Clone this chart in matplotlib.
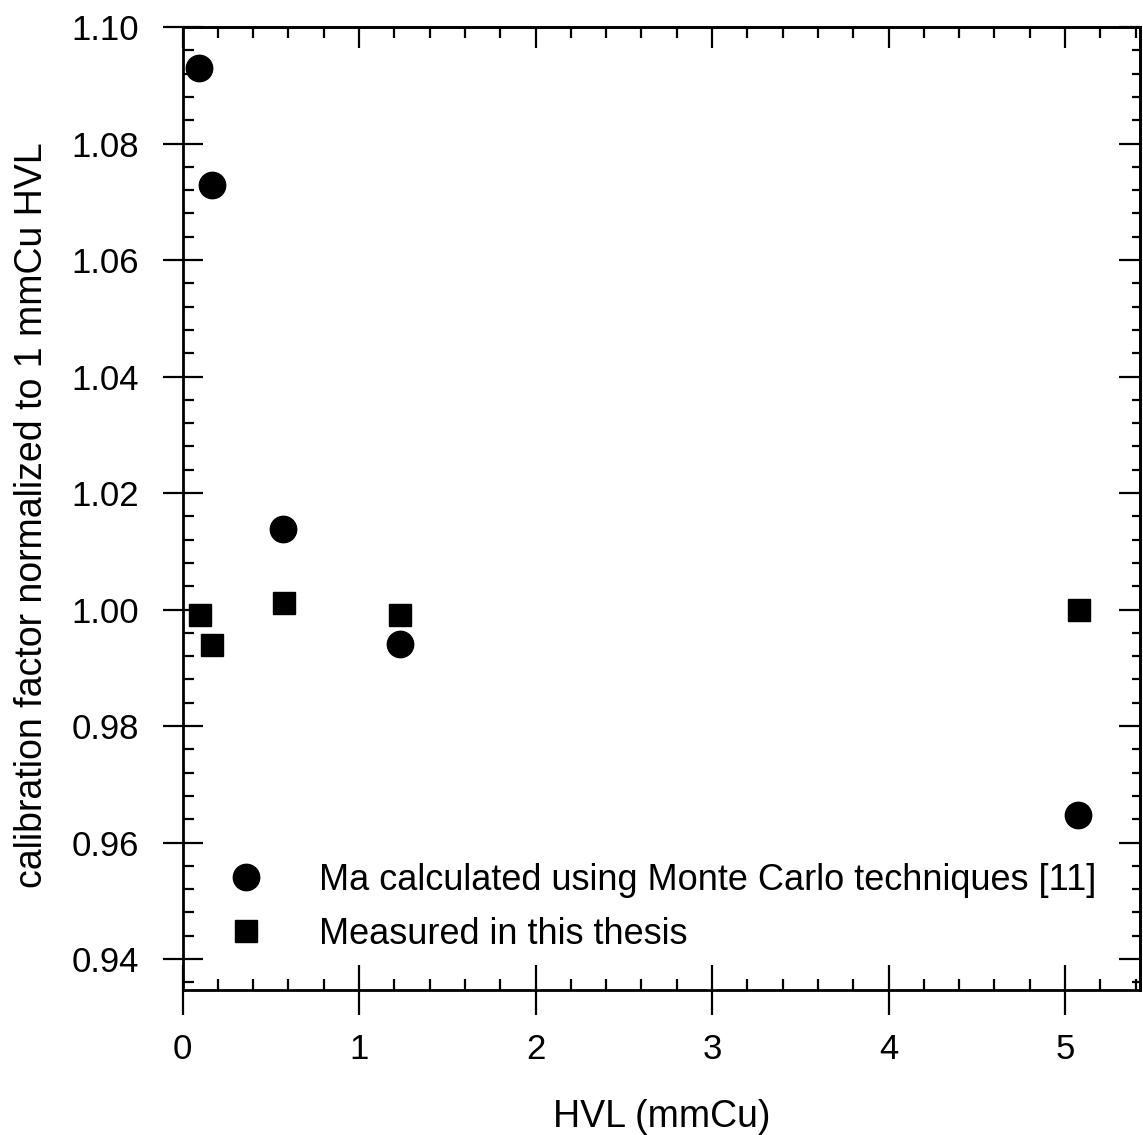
import numpy as np
import matplotlib
matplotlib.use("Agg")
import matplotlib.pyplot as plt
from matplotlib.ticker import MultipleLocator, FormatStrFormatter, NullFormatter

plt.rcParams['font.family'] = ['Liberation Sans', 'DejaVu Sans']

# Ma, Monte Carlo calculation [11]
hvl_mc = [0.093, 0.165, 0.571, 1.232, 5.072]
factor_mc = [1.0929, 1.0728, 1.0138, 0.9941, 0.9647]

# measured in this thesis
hvl_meas = [0.099, 0.169, 0.575, 1.232, 5.08]
factor_meas = [0.999, 0.994, 1.0011, 0.999, 1.000]

fig = plt.figure(figsize=(11.43, 11.35), dpi=100)
ax = fig.add_axes([0.1597, 0.1278, 0.8377, 0.8484])

ax.plot(hvl_mc, factor_mc, 'o', color='black', markersize=19,
        label="Ma calculated using Monte Carlo techniques [11]")
ax.plot(hvl_meas, factor_meas, 's', color='black', markersize=16,
        label="Measured in this thesis")

ax.set_xlim(0, 5.425)
ax.set_ylim(0.9347, 1.10)

ax.xaxis.set_major_locator(MultipleLocator(1))
ax.xaxis.set_minor_locator(MultipleLocator(0.2))
ax.yaxis.set_major_locator(MultipleLocator(0.02))
ax.yaxis.set_minor_locator(MultipleLocator(0.004))
ax.yaxis.set_major_formatter(FormatStrFormatter('%.2f'))

for s in ax.spines.values():
    s.set_linewidth(2)

# left / bottom: major ticks cross the axis, minor ticks inside
ax.tick_params(axis='both', which='both', width=1.6, labelsize=25)
ax.tick_params(axis='y', which='major', direction='inout', length=29, pad=17)
ax.tick_params(axis='y', which='minor', direction='in', length=8)
ax.tick_params(axis='x', which='major', direction='inout', length=36, pad=13)
ax.tick_params(axis='x', which='minor', direction='in', length=8)

# top / right: ticks inside only
top = ax.secondary_xaxis('top')
top.xaxis.set_major_locator(MultipleLocator(1))
top.xaxis.set_minor_locator(MultipleLocator(0.2))
top.xaxis.set_major_formatter(NullFormatter())
top.tick_params(which='major', direction='in', length=15, width=1.6)
top.tick_params(which='minor', direction='in', length=8, width=1.6)
top.spines['top'].set_linewidth(2)

right = ax.secondary_yaxis('right')
right.yaxis.set_major_locator(MultipleLocator(0.02))
right.yaxis.set_minor_locator(MultipleLocator(0.004))
right.yaxis.set_major_formatter(NullFormatter())
right.tick_params(which='major', direction='in', length=15, width=1.6)
right.tick_params(which='minor', direction='in', length=6, width=1.6)
right.spines['right'].set_linewidth(2)

ax.set_xlabel("HVL (mmCu)", fontsize=27, labelpad=24)
ax.set_ylabel("calibration factor normalized to 1 mmCu HVL", fontsize=27)
ax.yaxis.set_label_coords(-0.138, 0.493)

ax.legend(loc='lower left', bbox_to_anchor=(0.014, 0.0245), frameon=False,
          fontsize=26, numpoints=1, handletextpad=1.0, labelspacing=0.53,
          borderaxespad=0)

fig.savefig("out.png", dpi=100)
